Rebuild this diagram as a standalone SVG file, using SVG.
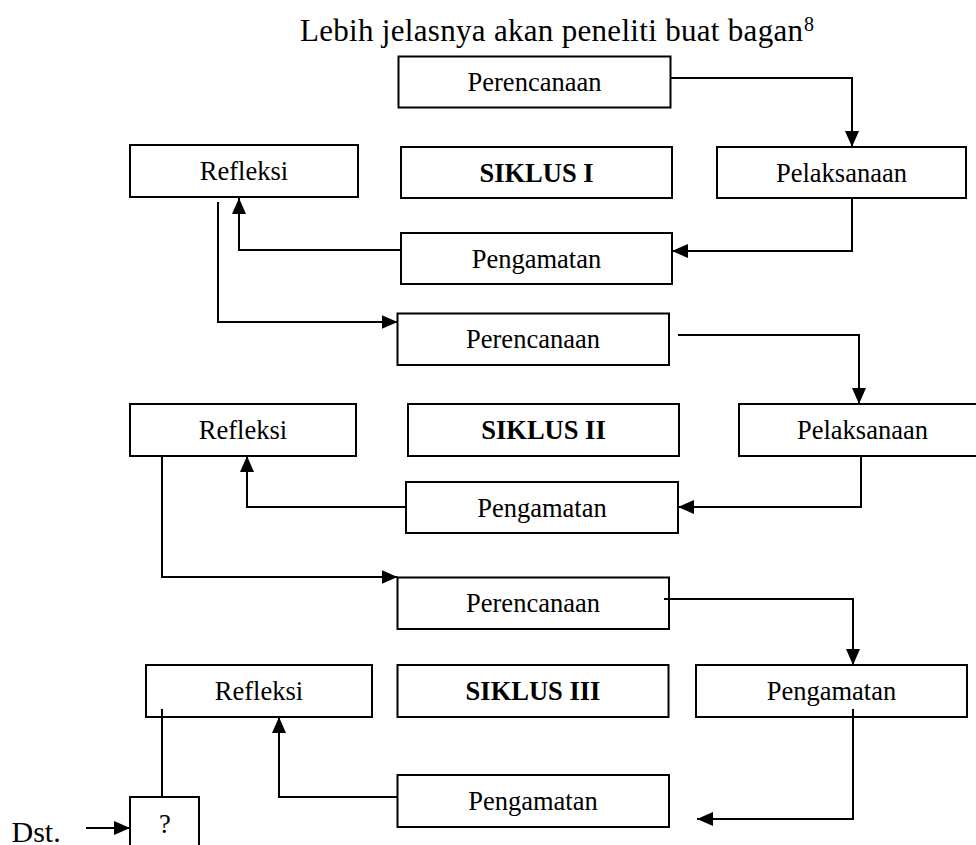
<svg xmlns="http://www.w3.org/2000/svg" width="976" height="845" viewBox="0 0 976 845">
<style>
.box{fill:#fff;stroke:#000;stroke-width:2}
.t{font-family:"Liberation Serif","Times New Roman",serif;font-size:26.5px;fill:#000;text-anchor:middle}
.b{font-weight:bold}
.c{fill:none;stroke:#000;stroke-width:2}
.title{font-family:"Liberation Serif","Times New Roman",serif;font-size:31px;fill:#000}
</style>
<defs>
<marker id="ah" viewBox="0 0 16 14" refX="16" refY="7" markerWidth="16" markerHeight="14" markerUnits="userSpaceOnUse" orient="auto">
<path d="M0,0 L16,7 L0,14 z" fill="#000"/>
</marker>
</defs>
<rect width="976" height="845" fill="#fff"/>
<g id="judul">
<text class="title" x="300" y="41" textLength="503" lengthAdjust="spacing">Lebih jelasnya akan peneliti buat bagan</text>
<text class="title" x="804" y="31" style="font-size:20px">8</text>
</g>

<g id="perencanaan1"><rect class="box" x="398.5" y="56.5" width="272" height="51"/><text class="t" x="534.5" y="91">Perencanaan</text></g>
<g id="refleksi1"><rect class="box" x="130" y="145" width="228" height="52"/><text class="t" x="244" y="180">Refleksi</text></g>
<g id="siklus1"><rect class="box" x="401" y="147" width="271" height="51"/><text class="t b" x="536.5" y="181.5">SIKLUS I</text></g>
<g id="pelaksanaan1"><rect class="box" x="717" y="147" width="249" height="51"/><text class="t" x="841.5" y="181.5">Pelaksanaan</text></g>
<g id="pengamatan1"><rect class="box" x="401" y="233" width="271" height="51"/><text class="t" x="536.5" y="267.5">Pengamatan</text></g>

<g id="perencanaan2"><rect class="box" x="397.5" y="313.5" width="271.5" height="51.5"/><text class="t" x="533" y="348">Perencanaan</text></g>
<g id="refleksi2"><rect class="box" x="130" y="404" width="226" height="52"/><text class="t" x="243" y="439">Refleksi</text></g>
<g id="siklus2"><rect class="box" x="408" y="404" width="271" height="52"/><text class="t b" x="543.5" y="439">SIKLUS II</text></g>
<g id="pelaksanaan2"><rect class="box" x="739" y="404" width="247" height="52"/><text class="t" x="862.5" y="439">Pelaksanaan</text></g>
<g id="pengamatan2"><rect class="box" x="406" y="482" width="272" height="51"/><text class="t" x="542" y="516.5">Pengamatan</text></g>

<g id="perencanaan3"><rect class="box" x="397.5" y="577.5" width="271.5" height="51.5"/><text class="t" x="533" y="612">Perencanaan</text></g>
<g id="refleksi3"><rect class="box" x="146" y="665" width="226" height="52"/><text class="t" x="259" y="700">Refleksi</text></g>
<g id="siklus3"><rect class="box" x="397.5" y="665" width="271" height="52"/><text class="t b" x="533" y="700">SIKLUS III</text></g>
<g id="pengamatan3a"><rect class="box" x="696" y="665" width="271" height="52"/><text class="t" x="831.5" y="700">Pengamatan</text></g>
<g id="pengamatan3b"><rect class="box" x="397.5" y="775" width="271.5" height="52"/><text class="t" x="533" y="810">Pengamatan</text></g>
<g id="tanya"><rect class="box" x="130" y="797" width="69" height="70"/><text class="t" x="165" y="833">?</text></g>
<g id="dst"><text class="title" x="11.5" y="842" style="font-size:30px">Dst.</text></g>

<g id="connectors">
<path class="c" d="M671,78 H852 V147" marker-end="url(#ah)"/>
<path class="c" d="M852,198 V251 H672" marker-end="url(#ah)"/>
<path class="c" d="M401,250 H239 V198" marker-end="url(#ah)"/>
<path class="c" d="M218,202 V322 H397.5" marker-end="url(#ah)"/>
<path class="c" d="M678,335 H859 V404" marker-end="url(#ah)"/>
<path class="c" d="M861,456 V507 H678" marker-end="url(#ah)"/>
<path class="c" d="M406,507 H247 V456" marker-end="url(#ah)"/>
<path class="c" d="M162,456 V577 H397.5" marker-end="url(#ah)"/>
<path class="c" d="M664,599 H853 V665" marker-end="url(#ah)"/>
<path class="c" d="M853,709 V819 H697" marker-end="url(#ah)"/>
<path class="c" d="M397.5,797 H279 V717" marker-end="url(#ah)"/>
<path class="c" d="M162,797 V709"/>
<path class="c" d="M86,828 H130" marker-end="url(#ah)"/>
</g>
</svg>
